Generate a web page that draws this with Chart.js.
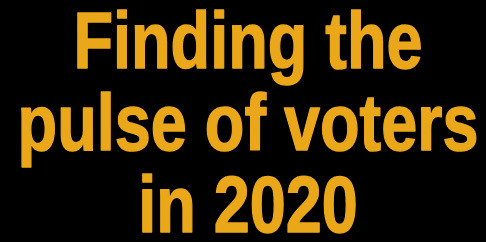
<!DOCTYPE html>
<html>
<head>
<meta charset="utf-8">
<script src="https://cdn.jsdelivr.net/npm/chart.js@4/dist/chart.umd.min.js"></script>
<style>
html,body{margin:0;padding:0;background:#000;}
#wrap{width:486px;height:242px;}
</style>
</head>
<body>
<div id="wrap"><canvas id="c" width="486" height="242"></canvas></div>
<script>
const titleLines = ["Finding the", "pulse of voters", "in 2020"];
const categories = [];
const values = [];
const titleColor = '#EBA71A';

// Condensed, heavy display face: compress the title horizontally about its centre
// and give the glyphs a thin outline of the same colour.
const condense = {
  id: 'condense',
  beforeDraw(chart, args, opts) {
    const ctx = chart.ctx, f = opts.factor;
    const t = chart.titleBlock;
    const cx = (t.left + t.right) / 2;
    const half = (t.right - t.left) / 2 / f;
    t.left = cx - half; t.right = cx + half; t.width = half * 2;
    ctx.save();
    ctx.translate(cx, 0);
    ctx.scale(f, 1);
    ctx.translate(-cx, 0);
    const orig = ctx.fillText;
    ctx.fillText = function (s, x, y, mw) {
      this.strokeStyle = this.fillStyle;
      this.lineWidth = opts.weight;
      this.lineJoin = 'round';
      if (mw !== undefined) { this.strokeText(s, x, y, mw); orig.call(this, s, x, y, mw); }
      else { this.strokeText(s, x, y); orig.call(this, s, x, y); }
    };
  },
  afterDraw(chart) {
    const ctx = chart.ctx;
    delete ctx.fillText;
    ctx.restore();
  }
};

new Chart(document.getElementById('c'), {
  type: 'bar',
  data: { labels: categories, datasets: [{ data: values }] },
  plugins: [condense],
  options: {
    responsive: false,
    animation: false,
    layout: { padding: { left: 10, right: 0, top: 0, bottom: 0 } },
    scales: { x: { display: false }, y: { display: false } },
    plugins: {
      condense: { factor: 0.81, weight: 1.5 },
      legend: { display: false },
      tooltip: { enabled: false },
      title: {
        display: true,
        text: titleLines,
        color: titleColor,
        font: { family: '"Liberation Sans", Arial, sans-serif', weight: 'bold', size: 80, lineHeight: 1.025 },
        padding: { top: 5, bottom: 0 }
      }
    }
  }
});
</script>
</body>
</html>
